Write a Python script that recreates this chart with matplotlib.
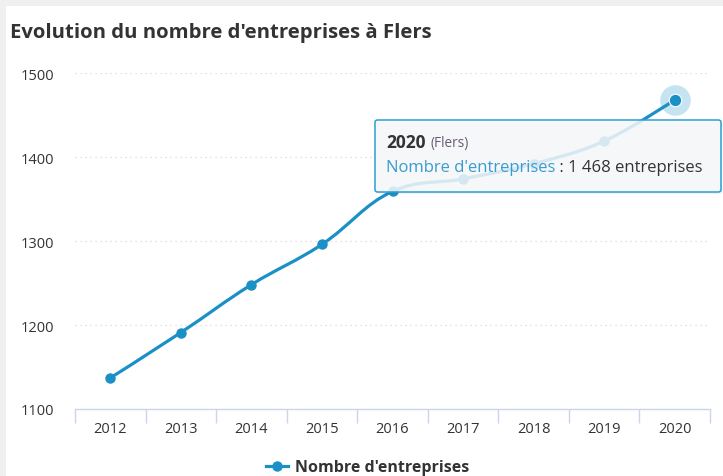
import matplotlib.pyplot as plt
from matplotlib.path import Path
from matplotlib.patches import PathPatch, FancyBboxPatch, Rectangle
from matplotlib.lines import Line2D

years = ['2012', '2013', '2014', '2015', '2016', '2017', '2018', '2019', '2020']
counts = [1137, 1191, 1248, 1296, 1359, 1374, 1392, 1419, 1468]
city = 'Flers'
series_name = "Nombre d'entreprises"

plt.rcParams['font.family'] = ['Open Sans', 'DejaVu Sans']

blue = '#1a90c6'
text_dark = '#333333'
axis_col = '#ccd6eb'


def spline_path(xs, ys, smoothing=1.5):
    # highcharts-like spline control points
    denom = smoothing + 1
    n = len(xs)
    lc = [None] * n
    rc = [None] * n
    for i in range(1, n - 1):
        px, py = xs[i], ys[i]
        lx, ly = xs[i - 1], ys[i - 1]
        nx, ny = xs[i + 1], ys[i + 1]
        lcx = (smoothing * px + lx) / denom
        lcy = (smoothing * py + ly) / denom
        rcx = (smoothing * px + nx) / denom
        rcy = (smoothing * py + ny) / denom
        corr = (rcy - lcy) * (rcx - px) / (rcx - lcx) + py - rcy
        lcy += corr
        rcy += corr
        if lcy > ly and lcy > py:
            lcy = max(ly, py); rcy = 2 * py - lcy
        elif lcy < ly and lcy < py:
            lcy = min(ly, py); rcy = 2 * py - lcy
        if rcy > ny and rcy > py:
            rcy = max(ny, py); lcy = 2 * py - rcy
        elif rcy < ny and rcy < py:
            rcy = min(ny, py); lcy = 2 * py - rcy
        lc[i] = (lcx, lcy)
        rc[i] = (rcx, rcy)
    verts = [(xs[0], ys[0])]
    codes = [Path.MOVETO]
    for i in range(1, n):
        c1 = rc[i - 1] if rc[i - 1] else (xs[i - 1], ys[i - 1])
        c2 = lc[i] if lc[i] else (xs[i], ys[i])
        verts += [c1, c2, (xs[i], ys[i])]
        codes += [Path.CURVE4] * 3
    return Path(verts, codes)


fig = plt.figure(figsize=(7.23, 4.77), dpi=100)
fig.patch.set_facecolor('#f0f0f0')
fig.patches.append(Rectangle((6 / 723, 0), 1, 1 - 7 / 477, transform=fig.transFigure,
                             facecolor='white', edgecolor='none', zorder=-5))

ax = fig.add_axes([75 / 723, 1 - 410 / 477, 635 / 723, 336 / 477])
ax.set_facecolor('none')
ax.set_zorder(1)

xs = list(range(len(years)))
ax.add_patch(PathPatch(spline_path(xs, counts), facecolor='none', edgecolor=blue,
                       lw=2.3, zorder=3, capstyle='round'))
ax.plot(xs[:-1], counts[:-1], 'o', color=blue, ms=6.5, zorder=4)
# hovered point
ax.plot(xs[-1], counts[-1], 'o', color=blue, ms=22, alpha=0.25, mec='none', zorder=4,
        clip_on=False)
ax.plot(xs[-1], counts[-1], 'o', color=blue, ms=9, mec='white', mew=0.8, zorder=5)

ax.set_xlim(-0.5, len(years) - 0.5)
ax.set_ylim(1100, 1500)
ax.set_yticks([1100, 1200, 1300, 1400, 1500])
ax.set_xticks(xs)
ax.set_xticklabels(years)
ax.set_xticks([i - 0.5 for i in range(len(years) + 1)], minor=True)
ax.tick_params(axis='x', which='major', length=0, pad=9, labelsize=10.5, labelcolor=text_dark)
ax.tick_params(axis='x', which='minor', length=10, color=axis_col, width=1)
ax.tick_params(axis='y', length=0, pad=15, labelsize=10.5, labelcolor=text_dark)

ax.grid(axis='y', color='#d8d8d8', linestyle=(0, (1, 3)), lw=0.9)
ax.set_axisbelow(True)
for s in ['top', 'right', 'left']:
    ax.spines[s].set_visible(False)
ax.spines['bottom'].set_color(axis_col)
ax.spines['bottom'].set_linewidth(1)

fig.text(10 / 723, 1 - 33 / 477, "Evolution du nombre d'entreprises à " + city,
         fontsize=14.6, fontweight='bold', color=text_dark, va='center', ha='left')

# tooltip
tx0, ty0, tx1, ty1 = 375 / 723, 1 - 193 / 477, 721 / 723, 1 - 121 / 477
shadow = FancyBboxPatch((tx0 + 0.002, ty0 - 0.004), tx1 - tx0, ty1 - ty0,
                        boxstyle='round,pad=0,rounding_size=0.004', transform=fig.transFigure,
                        facecolor='#000000', alpha=0.06, edgecolor='none', zorder=9)
box = FancyBboxPatch((tx0, ty0), tx1 - tx0, ty1 - ty0,
                     boxstyle='round,pad=0,rounding_size=0.004', transform=fig.transFigure,
                     facecolor='#f7f9fa', alpha=0.85, edgecolor='none', zorder=10)
border = FancyBboxPatch((tx0, ty0), tx1 - tx0, ty1 - ty0,
                        boxstyle='round,pad=0,rounding_size=0.004', transform=fig.transFigure,
                        facecolor='none', edgecolor='#2b9fd3', lw=1.1, zorder=11)
fig.patches.extend([shadow, box, border])

t1 = fig.text(386 / 723, 1 - 143 / 477, years[-1], fontsize=12.5, fontweight='bold',
              color=text_dark, va='center', ha='left', zorder=12)
fig.canvas.draw()
r = fig.canvas.get_renderer()
bb = t1.get_window_extent(r)
fig.text(bb.x1 / 723 + 5 / 723, 1 - 143 / 477, '(' + city + ')', fontsize=9.8,
         color='#6b5a7a', va='center', ha='left', zorder=12)
t2 = fig.text(386 / 723, 1 - 168 / 477, series_name, fontsize=12, color='#3a9bd0',
              va='center', ha='left', zorder=12)
bb2 = t2.get_window_extent(r)
value_txt = f"{counts[-1]:,}".replace(',', ' ')
fig.text(bb2.x1 / 723, 1 - 168 / 477, ' : ' + value_txt + ' entreprises', fontsize=12,
         color=text_dark, va='center', ha='left', zorder=12)

# legend
handle = Line2D([], [], color=blue, lw=2.3, marker='o', ms=6.5)
leg = fig.legend([handle], [series_name], loc='center', bbox_to_anchor=(0.508, 0.018),
                 frameon=False, handlelength=1.4, handletextpad=0.4,
                 prop={'weight': 'bold', 'size': 11.5})
for t in leg.get_texts():
    t.set_color(text_dark)

fig.savefig('out.png', dpi=100)
